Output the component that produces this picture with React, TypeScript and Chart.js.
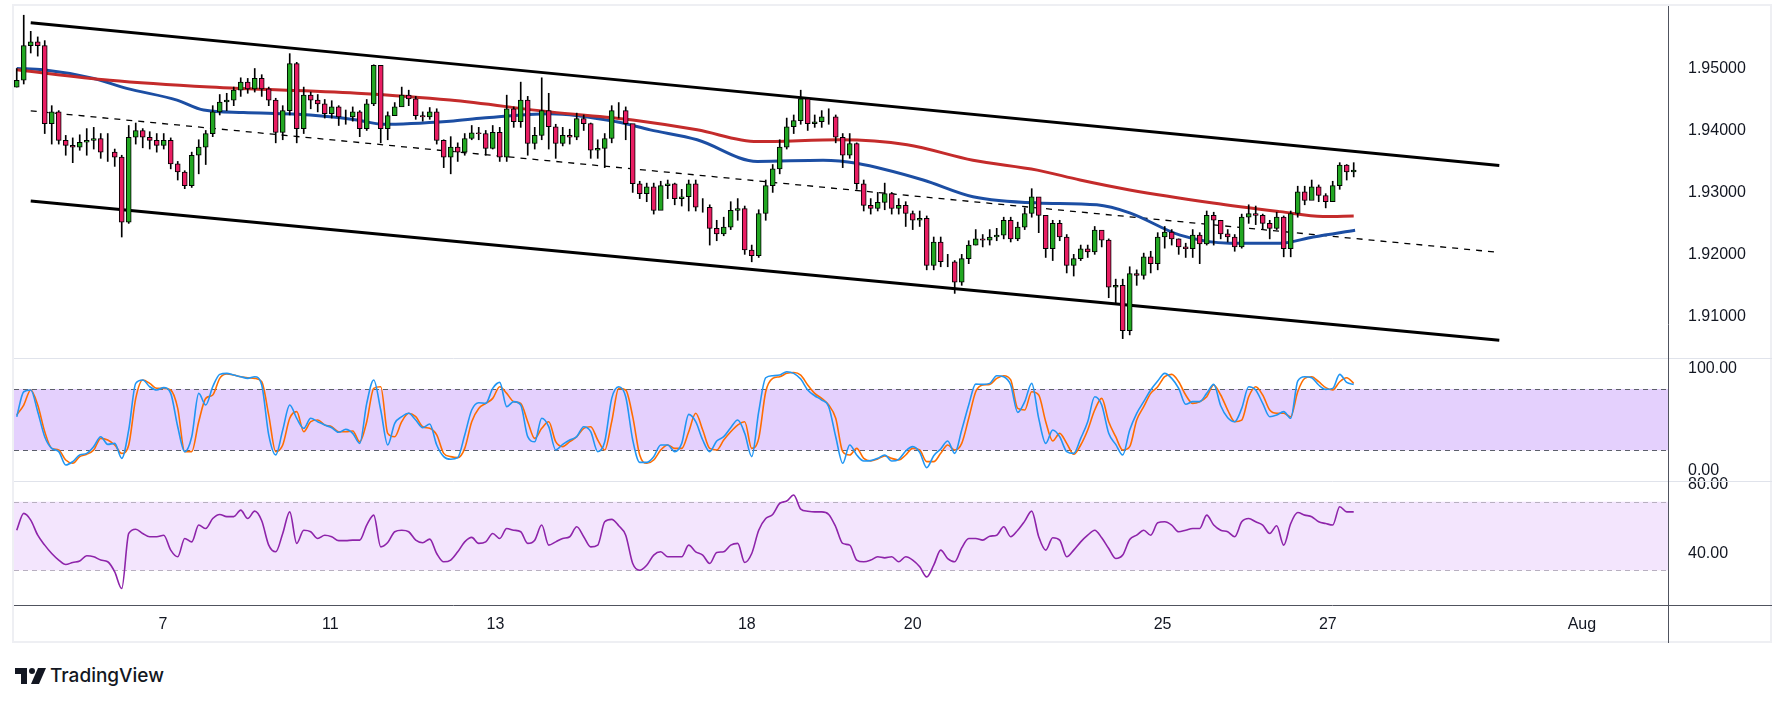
import React, { useEffect, useRef } from "react";
import { Chart, registerables } from "chart.js";
Chart.register(...registerables);

const firstOpen = 1.947;
const closes = [
1.9481,1.9537,1.9543,1.9537,1.9411,1.9430,1.9384,1.9376,1.9373,1.9381,
1.9384,1.9387,1.9365,1.9365,1.9357,1.9252,1.9389,1.9400,1.9389,1.9384,
1.9376,1.9384,1.9346,1.9333,1.9311,1.9360,1.9373,1.9395,1.9430,1.9446,
1.9449,1.9465,1.9478,1.9467,1.9484,1.9467,1.9449,1.9397,1.9432,1.9508,
1.9403,1.9457,1.9449,1.9443,1.9427,1.9438,1.9422,1.9422,1.9430,1.9403,
1.9443,1.9505,1.9403,1.9424,1.9438,1.9457,1.9451,1.9424,1.9422,1.9430,
1.9384,1.9357,1.9373,1.9365,1.9387,1.9396,1.9395,1.9371,1.9397,1.9357,
1.9435,1.9414,1.9449,1.9379,1.9392,1.9432,1.9406,1.9379,1.9392,1.9389,
1.9419,1.9411,1.9368,1.9371,1.9387,1.9432,1.9432,1.9411,1.9314,1.9298,
1.9309,1.9271,1.9311,1.9314,1.9290,1.9293,1.9314,1.9276,1.9276,1.9242,
1.9233,1.9244,1.9271,1.9274,1.9207,1.9198,1.9266,1.9311,1.9338,1.9373,
1.9406,1.9416,1.9451,1.9411,1.9414,1.9422,1.9422,1.9389,1.9360,1.9379,
1.9314,1.9279,1.9274,1.9284,1.9298,1.9274,1.9279,1.9266,1.9255,1.9258,
1.9182,1.9220,1.9188,1.9188,1.9155,1.9193,1.9215,1.9225,1.9223,1.9228,
1.9231,1.9255,1.9225,1.9244,1.9266,1.9293,1.9263,1.9209,1.9250,1.9228,
1.9182,1.9193,1.9209,1.9204,1.9239,1.9223,1.9147,1.9150,1.9077,1.9169,
1.9166,1.9196,1.9185,1.9228,1.9236,1.9225,1.9212,1.9209,1.9231,1.9217,
1.9263,1.9255,1.9233,1.9228,1.9212,1.9260,1.9266,1.9263,1.9250,1.9242,
1.9260,1.9209,1.9266,1.9301,1.9287,1.9309,1.9295,1.9285,1.9311,1.9344,
1.9333,1.9336];
const highs = [
1.9500,1.9586,1.9560,1.9551,1.9545,1.9440,1.9432,1.9392,1.9388,1.9393,
1.9403,1.9405,1.9395,1.9395,1.9370,1.9360,1.9408,1.9412,1.9403,1.9398,
1.9395,1.9395,1.9388,1.9350,1.9335,1.9365,1.9385,1.9400,1.9440,1.9458,
1.9460,1.9470,1.9485,1.9484,1.9500,1.9490,1.9470,1.9452,1.9440,1.9524,
1.9510,1.9470,1.9462,1.9458,1.9450,1.9448,1.9440,1.9433,1.9438,1.9432,
1.9450,1.9506,1.9505,1.9430,1.9445,1.9470,1.9465,1.9455,1.9430,1.9437,
1.9435,1.9385,1.9390,1.9380,1.9395,1.9408,1.9405,1.9400,1.9408,1.9405,
1.9457,1.9438,1.9478,1.9455,1.9405,1.9485,1.9460,1.9410,1.9405,1.9402,
1.9428,1.9425,1.9412,1.9385,1.9395,1.9440,1.9445,1.9438,1.9410,1.9318,
1.9315,1.9315,1.9318,1.9320,1.9315,1.9305,1.9320,1.9320,1.9290,1.9280,
1.9255,1.9260,1.9285,1.9290,1.9278,1.9215,1.9272,1.9320,1.9345,1.9385,
1.9420,1.9425,1.9465,1.9440,1.9425,1.9432,1.9435,1.9425,1.9395,1.9395,
1.9380,1.9320,1.9290,1.9300,1.9315,1.9300,1.9290,1.9285,1.9270,1.9270,
1.9262,1.9228,1.9228,1.9200,1.9190,1.9200,1.9222,1.9240,1.9232,1.9240,
1.9242,1.9260,1.9260,1.9252,1.9275,1.9306,1.9290,1.9230,1.9255,1.9255,
1.9232,1.9200,1.9215,1.9215,1.9245,1.9238,1.9225,1.9160,1.9160,1.9180,
1.9175,1.9202,1.9205,1.9235,1.9245,1.9240,1.9225,1.9218,1.9240,1.9235,
1.9270,1.9268,1.9255,1.9240,1.9232,1.9265,1.9280,1.9278,1.9265,1.9255,
1.9268,1.9262,1.9270,1.9310,1.9310,1.9320,1.9312,1.9298,1.9318,1.9348,
1.9345,1.9348];
const lows = [
1.9470,1.9475,1.9525,1.9520,1.9395,1.9378,1.9378,1.9360,1.9348,1.9368,
1.9360,1.9370,1.9355,1.9350,1.9342,1.9228,1.9250,1.9378,1.9372,1.9370,
1.9365,1.9370,1.9338,1.9320,1.9306,1.9308,1.9330,1.9345,1.9390,1.9425,
1.9432,1.9440,1.9455,1.9460,1.9462,1.9455,1.9440,1.9380,1.9385,1.9425,
1.9380,1.9395,1.9435,1.9430,1.9420,1.9420,1.9408,1.9410,1.9415,1.9390,
1.9400,1.9440,1.9380,1.9385,1.9425,1.9440,1.9440,1.9418,1.9415,1.9418,
1.9378,1.9340,1.9330,1.9350,1.9360,1.9385,1.9385,1.9360,1.9370,1.9350,
1.9350,1.9405,1.9405,1.9360,1.9370,1.9385,1.9370,1.9355,1.9375,1.9378,
1.9385,1.9400,1.9355,1.9355,1.9340,1.9380,1.9420,1.9385,1.9300,1.9290,
1.9285,1.9265,1.9285,1.9290,1.9280,1.9278,1.9270,1.9270,1.9268,1.9215,
1.9222,1.9230,1.9240,1.9255,1.9200,1.9188,1.9195,1.9255,1.9300,1.9330,
1.9370,1.9395,1.9410,1.9400,1.9405,1.9405,1.9410,1.9380,1.9340,1.9355,
1.9305,1.9270,1.9265,1.9270,1.9272,1.9265,1.9265,1.9245,1.9240,1.9245,
1.9175,1.9175,1.9180,1.9180,1.9137,1.9150,1.9185,1.9215,1.9212,1.9215,
1.9222,1.9225,1.9220,1.9222,1.9240,1.9260,1.9235,1.9195,1.9190,1.9222,
1.9170,1.9165,1.9190,1.9195,1.9200,1.9212,1.9130,1.9120,1.9064,1.9070,
1.9150,1.9160,1.9170,1.9175,1.9210,1.9215,1.9200,1.9195,1.9195,1.9185,
1.9215,1.9215,1.9225,1.9220,1.9205,1.9210,1.9250,1.9248,1.9240,1.9225,
1.9240,1.9196,1.9196,1.9260,1.9280,1.9295,1.9285,1.9275,1.9290,1.9305,
1.9320,1.9325];

const stochK = [
52.9,77.3,79,57.8,33.3,21.9,18.7,5.6,8.9,15.4,17,23.6,33.3,25.8,26.8,12.1,39.9,85.5,88.8,82.2,
79,81.3,75.7,43.1,18.7,33.3,75.7,64.3,82.2,94.3,95.3,93.6,92,90.4,92,83.9,35,15.4,39.9,64.3,
51.3,41.5,51.3,48,44.7,42.1,37.6,40.5,36.6,26.8,
65.9,88.8,59.4,25.2,46.4,52.9,56.2,49.6,42.1,45.7,25.2,13.8,11.2,12.8,35,59.4,66.6,65.9,80.6,86.5,
62.7,67.6,64.3,33.3,28.4,51.3,43.1,20.3,25.8,30.1,33.3,43.1,38.2,18.7,28.4,70.8,82.2,72.4,30.1,8.2,
8.2,13.8,25.2,25.2,18.7,26.8,55.2,48,
30.1,18.7,29.1,33.3,42.1,49.6,36.6,13.8,57.8,91,93,93.6,96.9,95.3,89.7,79,73.4,69.2,62.7,33.3,
7.3,25.2,15.4,9.5,9.9,12.1,15.4,9.5,11.2,19.3,23.6,18,3,14.7,21.3,29.1,17,39.9,64.3,84.8,
84.5,85.5,93,92,83.9,57.1,67.6,85.5,51.3,
26.8,39.9,33.3,18.7,17,31.7,48,72.4,64.3,36.6,25.8,15.4,39.9,56.2,67.6,79,87.8,95.3,90.4,80.6,
65,67.6,67.6,75.7,84.5,63.6,51.9,48,61,82.2,79,65.9,52.9,54.5,57.8,51.3,87.8,92,91,83.9,
79.6,80.6,94.3,86.5,84.5];
const stochD = [
54.5,64.3,79,64.3,38.2,21.9,20.3,10.5,7.3,13.8,16.1,20.3,31.7,30.1,25.2,17,25.2,70.8,88.8,85.5,
80.6,80.6,79,61,18.7,18.7,48,70.8,74.1,90.4,94.6,93.6,92,91,90.4,87.1,54.5,18.7,25.2,51.3,
57.8,38.2,48,49.6,44.7,43.1,38.2,38.2,38.9,28.4,
48,80.6,82.2,36.6,33.3,48,56.2,52.9,43.1,41.5,35,17,13.8,12.8,21.9,48,61,65.9,70.8,82.2,
75.7,67.6,65.9,48,31.7,41.5,48,28.4,23.6,28.4,33.3,41.5,43.1,30.1,20.3,48,80.6,79,52.9,15.4,
7.3,10.5,20.3,25.2,21.9,21.9,38.2,56.2,
39.9,21.9,20.3,30.1,38.2,44.7,48,21.9,31.7,77.3,90.4,92,95.3,96.2,93.6,83.9,75.7,70.8,64.3,51.3,
18.7,15.4,21.9,12.1,9.5,11.5,14.4,12.1,10.5,15.4,21.9,20.3,8.9,8.9,17,25.2,20.3,26.8,51.3,77.3,
83.9,84.5,90.4,93,88.8,61,59.4,77.3,74.1,
48,29.1,36.6,26.8,16.1,25.2,39.9,59.4,70.8,48,33.3,20.3,23.6,49.6,62.7,75.7,82.2,92,94.3,87.1,
74.1,65.9,67.6,72.4,83.9,74.1,59.4,48,49.6,72.4,82.2,74.1,59.4,56.2,56.2,52.9,77.3,90.4,92,87.1,
81.3,79,87.1,91,85.5];
const rsi = [
53.4,63.2,59.3,50.5,44.7,39.8,36,33.4,34.6,35.4,38.5,37.9,36,35,29.1,19.4,51.5,54,51.5,49.6,
49.6,50.5,41.8,37.9,48.6,46.6,56.4,54.4,60.2,62.6,61.3,61.3,65.1,60.2,64.5,58.9,44.7,40.8,51.5,64.1,
45.7,53.4,52.5,48.6,50.5,49.6,47.3,47.3,47.6,47.6,
56.4,62.2,43.7,46.2,52.5,53.4,52.5,47.6,46.1,48.2,39.8,35,36,40.8,46.6,49.2,45.7,46.6,51.5,48.6,
54.4,53.4,52.5,45.7,47.6,56.4,44.7,46.6,48.6,49.6,55.4,49.6,43.7,44.7,58.3,59.7,56,50.5,34,30.1,
33,38.9,40.8,37.9,37.9,37.9,44.7,40.8,
38.9,34,40.4,40.8,44.7,45.7,34.6,39.8,53.4,60.2,62.6,69,70.4,73.9,65.7,64.5,64.1,64.1,62.6,55.4,
45.7,44.7,36,35,36,37.9,37.3,37.9,35,37.9,36,32.1,26.2,33,41.8,36.9,35,43.1,48.6,48.6,
47.6,49.9,50.5,55.4,49.6,53.4,58.7,64.5,49.6,
41.8,49,47.6,37.9,41.8,46.6,50.5,53.4,49,42.7,36.9,38.9,48,50.5,53.4,50.5,57.7,58.3,56.4,52.5,
53.4,54.4,54.4,62.2,56.4,53.4,52.5,49.6,58.3,60.2,58.3,56.4,51.5,56,44.7,57.3,63.7,62.2,61.3,58.3,
57.3,56.4,67.1,64.1,64.1];

const redMA: [number, number][] = [[0,1.9498],[13.3,1.9481],[27.6,1.9470],[48.6,1.9460],[61.9,1.9449],[76.2,1.9430],[88,1.9417],[97.2,1.9401],[105.8,1.9382],[117.6,1.9385],[127.2,1.9377],[136.6,1.9352],[145.8,1.9336],[151.9,1.9320],[159,1.9304],[170.9,1.9283],[180.5,1.9269],[186.6,1.9261],[191,1.9262]];
const blueMA: [number, number][] = [[0,1.9500],[3.8,1.9498],[11,1.9484],[15.7,1.9468],[22.9,1.9449],[26.7,1.9433],[32.4,1.9429],[41.9,1.9425],[48.6,1.9417],[52.3,1.9410],[61.9,1.9415],[66.6,1.9420],[76.2,1.9427],[85.7,1.9414],[90.5,1.9401],[97.2,1.9385],[105.8,1.9350],[115.2,1.9352],[120,1.9347],[129.5,1.9320],[136.6,1.9293],[145.8,1.9283],[154.3,1.9280],[159,1.9267],[166.2,1.9231],[173.3,1.9218],[180.5,1.9218],[185.2,1.9228],[191.2,1.9239]];
const upperChannel: [number, number][] = [[2.0,1.95738],[211.8,1.93433]];
const lowerChannel: [number, number][] = [[2.0,1.92861],[211.8,1.90613]];
const midChannel: [number, number][] = [[2.0,1.94317],[211.8,1.92031]];

const tickPositions = [20.9, 44.8, 68.4, 104.3, 128, 163.7, 187.3, 223.6];
const tickLabels = ["7", "11", "13", "18", "20", "25", "27", "Aug"];
const priceTicks = [1.91, 1.92, 1.93, 1.94, 1.95];
const stochTicks = [0, 100];
const rsiTicks = [40, 80];

const PRICE = { min: 1.8634, max: 1.96009 };
const STOCH = { min: -131.4, max: 454.8, paneTop: 110 };
const RSI = { min: 9.8, max: 359.0, paneTop: 82.2 };

const GREEN = "#22a722";
const PINK = "#e91e63";

export default function App() {
  const ref = useRef<HTMLCanvasElement>(null);
  useEffect(() => {
    const opens = closes.map((_, i) => (i === 0 ? firstOpen : closes[i - 1]));
    const bodies = closes.map((c, i) => ({ x: i, y: [opens[i], c] }));
    const wicks = closes.map((_, i) => ({ x: i, y: [lows[i], highs[i]] }));
    const colors = closes.map((c, i) => (c >= opens[i] ? GREEN : PINK));
    const pts = (a: [number, number][]) => a.map(([x, y]) => ({ x, y }));
    const ser = (a: number[]) => a.map((y, x) => ({ x, y }));

    const toPrice = (v: number, r: { min: number; max: number }) =>
      PRICE.min + ((v - r.min) / (r.max - r.min)) * (PRICE.max - PRICE.min);
    const axisTicks = [
      ...stochTicks.map((v) => ({ value: toPrice(v, STOCH), label: v.toFixed(2) })),
      ...rsiTicks.map((v) => ({ value: toPrice(v, RSI), label: v.toFixed(2) })),
      ...priceTicks.map((v) => ({ value: v, label: v.toFixed(5) })),
    ].sort((a, b) => a.value - b.value);

    const panes = {
      id: "panes",
      beforeDatasetsDraw(chart: any) {
        const ctx = chart.ctx;
        const { left, right } = chart.chartArea;
        const ys = chart.scales.ys, yr = chart.scales.yr;
        ctx.save();
        ctx.fillStyle = "rgba(196,150,250,0.45)";
        ctx.fillRect(left, ys.getPixelForValue(80), right - left, ys.getPixelForValue(20) - ys.getPixelForValue(80));
        ctx.fillStyle = "rgba(214,170,250,0.3)";
        ctx.fillRect(left, yr.getPixelForValue(70), right - left, yr.getPixelForValue(30) - yr.getPixelForValue(70));
        ctx.lineWidth = 1;
        ctx.setLineDash([5, 4]);
        ctx.strokeStyle = "#5d606b";
        for (const v of [80, 20]) {
          const y = Math.round(ys.getPixelForValue(v)) + 0.5;
          ctx.beginPath(); ctx.moveTo(left, y); ctx.lineTo(right, y); ctx.stroke();
        }
        ctx.strokeStyle = "#b8b0c0";
        for (const v of [70, 30]) {
          const y = Math.round(yr.getPixelForValue(v)) + 0.5;
          ctx.beginPath(); ctx.moveTo(left, y); ctx.lineTo(right, y); ctx.stroke();
        }
        ctx.setLineDash([]);
        ctx.strokeStyle = "#e0e3eb";
        for (const y0 of [ys.getPixelForValue(STOCH.paneTop), yr.getPixelForValue(RSI.paneTop)]) {
          const y = Math.round(y0) + 0.5;
          ctx.beginPath(); ctx.moveTo(0, y); ctx.lineTo(chart.width, y); ctx.stroke();
        }
        ctx.restore();
      },
      afterDraw(chart: any) {
        const ctx = chart.ctx;
        const { right, bottom } = chart.chartArea;
        ctx.save();
        ctx.strokeStyle = "#50535e";
        ctx.lineWidth = 1;
        ctx.beginPath();
        ctx.moveTo(Math.round(right) + 0.5, 0); ctx.lineTo(Math.round(right) + 0.5, chart.height);
        ctx.moveTo(0, Math.round(bottom) + 0.5); ctx.lineTo(chart.width, Math.round(bottom) + 0.5);
        ctx.stroke();
        ctx.restore();
      },
    };

    const tickFont = { family: "Liberation Sans, Arial, sans-serif", size: 16 };
    const hidden = (r: { min: number; max: number }) => ({ type: "linear", display: false, min: r.min, max: r.max });

    const line = (data: any, color: string, width: number, axis: string, extra: any = {}) => ({
      type: "line", data, borderColor: color, borderWidth: width, pointRadius: 0, yAxisID: axis,
      tension: 0.4, cubicInterpolationMode: "monotone", ...extra,
    });

    const chart = new Chart(ref.current as HTMLCanvasElement, {
      type: "bar",
      data: {
        datasets: [
          { type: "bar", data: bodies as any, backgroundColor: colors, borderColor: "#000", borderWidth: 1, borderSkipped: false, barThickness: 5, grouped: false, yAxisID: "y" } as any,
          { type: "bar", data: wicks as any, backgroundColor: "#000", borderWidth: 0, barThickness: 1, grouped: false, yAxisID: "y" } as any,
          line(pts(redMA), "#c42b2b", 3, "y"),
          line(pts(blueMA), "#1c4ea3", 3, "y"),
          line(pts(upperChannel), "#000", 3, "y", { tension: 0 }),
          line(pts(lowerChannel), "#000", 3, "y", { tension: 0 }),
          line(pts(midChannel), "#000", 1.3, "y", { tension: 0, borderDash: [6, 6] }),
          line(ser(stochK), "#2196f3", 1.6, "ys", { tension: 0 }),
          line(ser(stochD), "#ff6d00", 1.6, "ys", { tension: 0 }),
          line(ser(rsi), "#8e24aa", 1.6, "yr", { tension: 0 }),
        ] as any,
      },
      options: {
        animation: false,
        responsive: false,
        maintainAspectRatio: false,
        layout: { padding: 0 },
        plugins: { legend: { display: false }, tooltip: { enabled: false } },
        scales: {
          x: {
            type: "linear", min: -0.39, max: 235.9, offset: false,
            grid: { display: false, drawTicks: false },
            border: { display: false },
            afterBuildTicks: (s: any) => { s.ticks = tickPositions.map((v) => ({ value: v })); },
            afterFit: (s: any) => { s.height = 38; s.paddingLeft = 0; s.paddingRight = 0; },
            ticks: {
              color: "#131722", font: tickFont, padding: 10, maxRotation: 0, autoSkip: false,
              callback: (v: any) => tickLabels[tickPositions.indexOf(Number(v))] ?? "",
            },
          },
          y: {
            type: "linear", position: "right", min: PRICE.min, max: PRICE.max,
            grid: { display: false, drawTicks: false },
            border: { display: false },
            afterBuildTicks: (s: any) => { s.ticks = axisTicks.map((t) => ({ value: t.value })); },
            afterFit: (s: any) => { s.width = 104; s.paddingTop = 0; s.paddingBottom = 0; },
            ticks: {
              color: "#131722", font: tickFont, padding: 20, autoSkip: false,
              callback: (_v: any, i: number) => axisTicks[i]?.label ?? "",
            },
          },
          ys: hidden(STOCH),
          yr: hidden(RSI),
        } as any,
      },
      plugins: [panes as any],
    });
    return () => chart.destroy();
  }, []);

  return (
    <div style={{ position: "fixed", left: 0, top: 0, width: 1791, height: 701, background: "#fff", fontFamily: "Inter, Liberation Sans, Arial, sans-serif" }}>
      <div style={{ position: "absolute", left: 12, top: 4, width: 1760, height: 639, border: "2px solid #eeeff3", boxSizing: "border-box" }} />
      <canvas ref={ref} width={1758} height={637} style={{ position: "absolute", left: 14, top: 6, width: 1758, height: 637 }} />
      <div style={{ position: "absolute", left: 15, top: 664, display: "flex", alignItems: "center", color: "#131722" }}>
        <svg width="31" height="16" viewBox="0 0 31 16" style={{ marginRight: 4 }}>
          <path d="M0 0 H12 V16 H6 V6 H0 Z" fill="#131722" />
          <circle cx="17" cy="3" r="3" fill="#131722" />
          <path d="M23 0 H31 L24 16 H16 Z" fill="#131722" />
        </svg>
        <span style={{ fontSize: 19, fontWeight: 500 }}>TradingView</span>
      </div>
    </div>
  );
}
